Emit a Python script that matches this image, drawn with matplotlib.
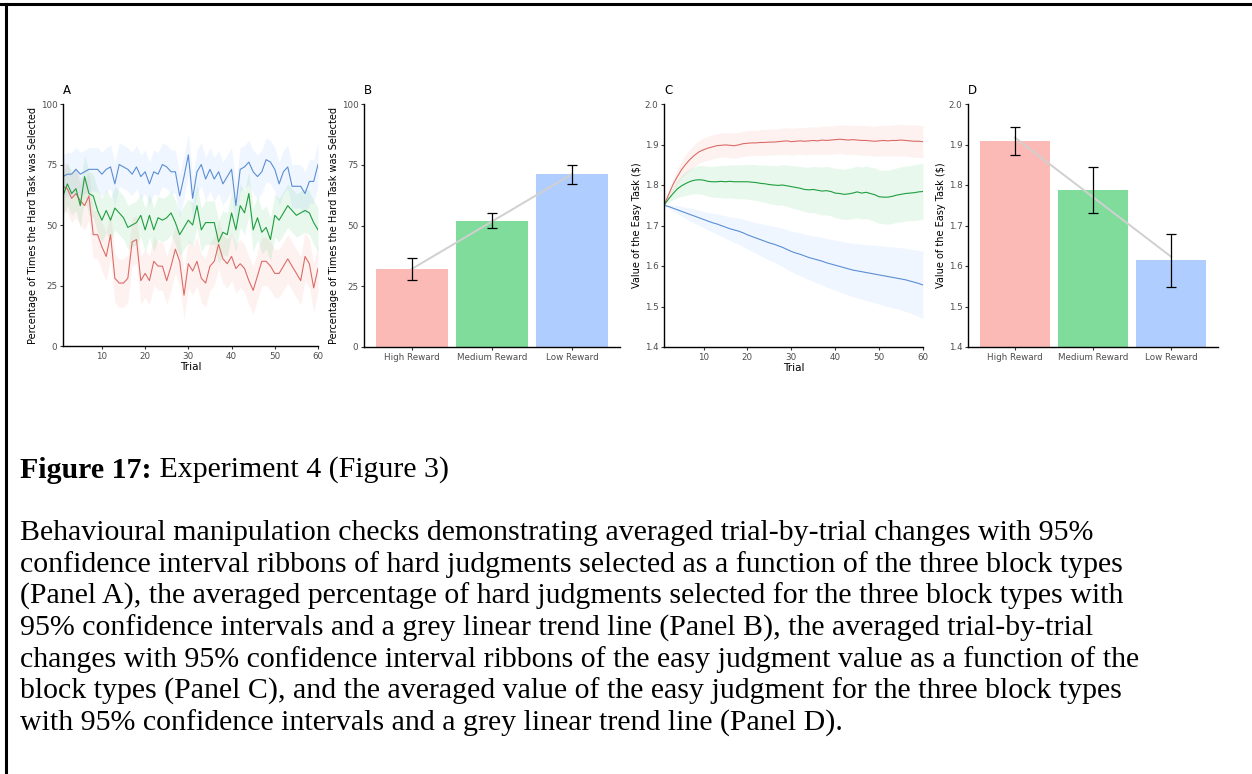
import numpy as np
import matplotlib
matplotlib.use("Agg")
import matplotlib.pyplot as plt
from matplotlib.lines import Line2D

# Dados
trials = np.arange(1, 61)
groups = ["High Reward", "Medium Reward", "Low Reward"]

# Painel A: % de escolhas da tarefa dificil por tentativa
a_high = [66, 65, 61, 63, 60, 58, 62, 46, 46, 41, 37, 46, 28, 26, 26, 28, 43, 44, 27, 30,
          27, 35, 33, 33, 27, 33, 40, 35, 21, 34, 31, 35, 28, 26, 33, 35, 42, 36, 34, 37,
          32, 34, 32, 27, 23, 29, 35, 35, 33, 30, 30, 33, 36, 33, 30, 27, 37, 34, 24, 32]
a_med = [62, 67, 63, 65, 58, 70, 63, 62, 56, 52, 56, 52, 57, 55, 53, 49, 50, 51, 54, 48,
         54, 48, 53, 52, 53, 55, 51, 46, 49, 52, 50, 58, 48, 51, 51, 51, 43, 47, 46, 55,
         48, 58, 55, 63, 48, 53, 47, 49, 44, 54, 52, 55, 58, 56, 54, 55, 56, 55, 51, 48]
a_low = [70, 71, 71, 73, 71, 72, 73, 73, 73, 71, 73, 74, 67, 75, 74, 73, 71, 74, 70, 72,
         67, 72, 71, 75, 74, 72, 72, 62, 70, 79, 61, 72, 75, 69, 73, 69, 72, 67, 70, 73,
         58, 73, 74, 76, 72, 70, 72, 77, 76, 73, 67, 72, 74, 66, 66, 66, 63, 68, 68, 75]
a_ci = [10, 9, 9]  # meia largura do IC95 (aprox.)

# Painel B: medias e IC95
b_mean = [32, 52, 71]
b_lo = [27.5, 49, 67]
b_hi = [36.5, 55, 75]

# Painel C: valor da tarefa facil por tentativa
c_high = [1.750, 1.775, 1.800, 1.820, 1.838, 1.852, 1.864, 1.874, 1.882, 1.887,
          1.891, 1.894, 1.897, 1.898, 1.899, 1.898, 1.897, 1.899, 1.902, 1.903,
          1.904, 1.904, 1.905, 1.905, 1.906, 1.906, 1.907, 1.908, 1.909, 1.907,
          1.908, 1.909, 1.908, 1.909, 1.910, 1.909, 1.911, 1.910, 1.911, 1.912,
          1.913, 1.912, 1.911, 1.912, 1.911, 1.910, 1.910, 1.909, 1.908, 1.909,
          1.910, 1.909, 1.910, 1.910, 1.911, 1.910, 1.909, 1.908, 1.908, 1.907]
c_med = [1.750, 1.765, 1.778, 1.790, 1.798, 1.804, 1.809, 1.812, 1.813, 1.812,
         1.809, 1.808, 1.808, 1.809, 1.808, 1.809, 1.808, 1.808, 1.808, 1.808,
         1.807, 1.806, 1.804, 1.803, 1.801, 1.800, 1.799, 1.800, 1.798, 1.796,
         1.794, 1.792, 1.789, 1.788, 1.789, 1.787, 1.785, 1.786, 1.784, 1.780,
         1.779, 1.777, 1.778, 1.780, 1.783, 1.780, 1.782, 1.779, 1.776, 1.771,
         1.770, 1.770, 1.772, 1.775, 1.777, 1.779, 1.780, 1.781, 1.783, 1.784]
c_low = [1.750, 1.747, 1.743, 1.739, 1.735, 1.731, 1.727, 1.723, 1.719, 1.715,
         1.711, 1.707, 1.704, 1.700, 1.696, 1.692, 1.689, 1.686, 1.682, 1.677,
         1.673, 1.669, 1.665, 1.661, 1.657, 1.654, 1.650, 1.646, 1.641, 1.636,
         1.632, 1.629, 1.625, 1.621, 1.618, 1.615, 1.612, 1.608, 1.605, 1.602,
         1.599, 1.596, 1.593, 1.590, 1.588, 1.586, 1.584, 1.582, 1.580, 1.578,
         1.576, 1.574, 1.572, 1.570, 1.568, 1.566, 1.563, 1.560, 1.557, 1.553]
c_high_ci = [0, 0.008, 0.014, 0.018, 0.021, 0.024, 0.026, 0.027, 0.028, 0.029,
             0.030, 0.030, 0.030, 0.030, 0.030, 0.031, 0.031, 0.031, 0.031, 0.031,
             0.031, 0.031, 0.032, 0.032, 0.032, 0.032, 0.032, 0.033, 0.033, 0.033,
             0.033, 0.033, 0.034, 0.034, 0.034, 0.034, 0.035, 0.035, 0.035, 0.035,
             0.035, 0.036, 0.036, 0.036, 0.036, 0.037, 0.037, 0.037, 0.037, 0.038,
             0.038, 0.038, 0.038, 0.039, 0.039, 0.039, 0.039, 0.040, 0.040, 0.040]
c_med_ci = [0, 0.008, 0.015, 0.021, 0.026, 0.030, 0.032, 0.034, 0.035, 0.036,
            0.037, 0.038, 0.039, 0.040, 0.040, 0.041, 0.041, 0.042, 0.042, 0.043,
            0.044, 0.044, 0.045, 0.046, 0.047, 0.048, 0.049, 0.050, 0.051, 0.052,
            0.053, 0.054, 0.055, 0.056, 0.057, 0.058, 0.059, 0.060, 0.060, 0.061,
            0.062, 0.062, 0.063, 0.063, 0.064, 0.064, 0.065, 0.065, 0.066, 0.066,
            0.066, 0.067, 0.067, 0.067, 0.068, 0.068, 0.068, 0.069, 0.069, 0.069]
c_low_ci = [0, 0.004, 0.007, 0.010, 0.012, 0.014, 0.016, 0.018, 0.019, 0.020,
            0.022, 0.023, 0.025, 0.026, 0.028, 0.029, 0.031, 0.032, 0.034, 0.035,
            0.037, 0.038, 0.040, 0.041, 0.043, 0.044, 0.046, 0.047, 0.049, 0.050,
            0.052, 0.053, 0.054, 0.055, 0.056, 0.058, 0.059, 0.060, 0.061, 0.062,
            0.063, 0.064, 0.065, 0.066, 0.067, 0.068, 0.069, 0.070, 0.071, 0.072,
            0.073, 0.074, 0.075, 0.076, 0.077, 0.078, 0.079, 0.080, 0.082, 0.083]

# Painel D: medias e IC95
d_mean = [1.908, 1.788, 1.614]
d_lo = [1.873, 1.732, 1.548]
d_hi = [1.942, 1.845, 1.680]

caption_title = "Figure 17:"
caption_sub = " Experiment 4 (Figure 3)"
caption_lines = [
    "Behavioural manipulation checks demonstrating averaged trial-by-trial changes with 95%",
    "confidence interval ribbons of hard judgments selected as a function of the three block types",
    "(Panel A), the averaged percentage of hard judgments selected for the three block types with",
    "95% confidence intervals and a grey linear trend line (Panel B), the averaged trial-by-trial",
    "changes with 95% confidence interval ribbons of the easy judgment value as a function of the",
    "block types (Panel C), and the averaged value of the easy judgment for the three block types",
    "with 95% confidence intervals and a grey linear trend line (Panel D).",
]

line_cols = ["#DC6B66", "#1F9E3E", "#5A8ED3"]
fill_cols = ["#F8766D", "#00BA38", "#619CFF"]
bar_cols = ["#FBBAB6", "#7FDC9B", "#B0CDFF"]

W, H = 1252, 774
fig = plt.figure(figsize=(W / 100, H / 100), dpi=100)


def rect(l, t, r, b):
    return [l / W, 1 - b / H, (r - l) / W, (b - t) / H]


def style(ax):
    for s in ["top", "right"]:
        ax.spines[s].set_visible(False)
    for s in ["left", "bottom"]:
        ax.spines[s].set_linewidth(1.0)
        ax.spines[s].set_color("black")
    ax.tick_params(labelsize=6.3, labelcolor="#4D4D4D", length=2.5, width=0.8,
                   color="#333333", pad=1.5)


def label(ax, txt):
    ax.text(0.0, 1.03, txt, transform=ax.transAxes, fontsize=8.5, ha="left", va="bottom")


# ---- Painel A
axA = fig.add_axes(rect(63, 104, 318, 346))
for y, ci, lc, fc in zip([a_high, a_med, a_low], a_ci, line_cols, fill_cols):
    y = np.array(y, dtype=float)
    axA.fill_between(trials, y - ci, y + ci, color=fc, alpha=0.09, lw=0)
    axA.plot(trials, y, color=lc, lw=0.8)
axA.set_xlim(1, 60)
axA.set_ylim(0, 100)
axA.set_xticks([10, 20, 30, 40, 50, 60])
axA.set_yticks([0, 25, 50, 75, 100])
axA.set_xlabel("Trial", fontsize=7.5, labelpad=1)
axA.set_ylabel("Percentage of Times the Hard Task was Selected", fontsize=7, labelpad=2)
style(axA)
label(axA, "A")


def bar_panel(ax, mean, lo, hi):
    x = np.arange(1, 4)
    ax.bar(x, mean, width=0.9, color=bar_cols, zorder=1)
    k, c = np.polyfit(x, mean, 1)
    ax.plot([1, 3], [k * 1 + c, k * 3 + c], color="#D0D0D0", lw=1.4, zorder=2)
    mean = np.array(mean)
    yerr = [mean - np.array(lo), np.array(hi) - mean]
    ax.errorbar(x, mean, yerr=yerr, fmt="none", ecolor="black", elinewidth=0.9,
                capsize=3.5, capthick=0.9, zorder=3)
    ax.set_xlim(0.4, 3.6)
    ax.set_xticks(x)
    ax.set_xticklabels(groups)


# ---- Painel B
axB = fig.add_axes(rect(364, 104, 620, 347))
bar_panel(axB, b_mean, b_lo, b_hi)
axB.set_ylim(0, 100)
axB.set_yticks([0, 25, 50, 75, 100])
axB.set_ylabel("Percentage of Times the Hard Task was Selected", fontsize=7, labelpad=2)
style(axB)
label(axB, "B")

# ---- Painel C
axC = fig.add_axes(rect(664, 104, 923, 347))
for y, ci, lc, fc in zip([c_high, c_med, c_low], [c_high_ci, c_med_ci, c_low_ci],
                         line_cols, fill_cols):
    y = np.array(y)
    ci = np.array(ci)
    axC.fill_between(trials, y - ci, y + ci, color=fc, alpha=0.09, lw=0)
    axC.plot(trials, y, color=lc, lw=0.8)
axC.set_xlim(1, 60)
axC.set_ylim(1.4, 2.0)
axC.set_xticks([10, 20, 30, 40, 50, 60])
axC.set_yticks([1.4, 1.5, 1.6, 1.7, 1.8, 1.9, 2.0])
axC.set_yticklabels(["1.4", "1.5", "1.6", "1.7", "1.8", "1.9", "2.0"])
axC.set_xlabel("Trial", fontsize=7.5, labelpad=1)
axC.set_ylabel("Value of the Easy Task ($)", fontsize=7, labelpad=2)
style(axC)
label(axC, "C")

# ---- Painel D
axD = fig.add_axes(rect(968, 104, 1218, 347))
bar_panel(axD, d_mean, d_lo, d_hi)
axD.set_ylim(1.4, 2.0)
axD.set_yticks([1.4, 1.5, 1.6, 1.7, 1.8, 1.9, 2.0])
axD.set_yticklabels(["1.4", "1.5", "1.6", "1.7", "1.8", "1.9", "2.0"])
axD.set_ylabel("Value of the Easy Task ($)", fontsize=7, labelpad=2)
style(axD)
label(axD, "D")

# ---- Legenda (texto)
serif = "Liberation Serif"
fs = 21.5
t = fig.text(20 / W, 1 - 470 / H, caption_title, fontsize=fs, family=serif,
             fontweight="bold", va="center")
fig.canvas.draw()
bb = t.get_window_extent()
fig.text(bb.x1 / W, 1 - 470 / H, caption_sub, fontsize=fs, family=serif, va="center")
for i, s in enumerate(caption_lines):
    fig.text(20 / W, 1 - (533 + i * 31.7) / H, s, fontsize=fs, family=serif, va="center")

# moldura (topo e esquerda)
fig.add_artist(Line2D([0, 1], [1 - 4 / H, 1 - 4 / H], color="black", lw=2.2,
                      transform=fig.transFigure))
fig.add_artist(Line2D([6 / W, 6 / W], [0, 1 - 4 / H], color="black", lw=2.2,
                      transform=fig.transFigure))

fig.savefig("out.png", dpi=100)
